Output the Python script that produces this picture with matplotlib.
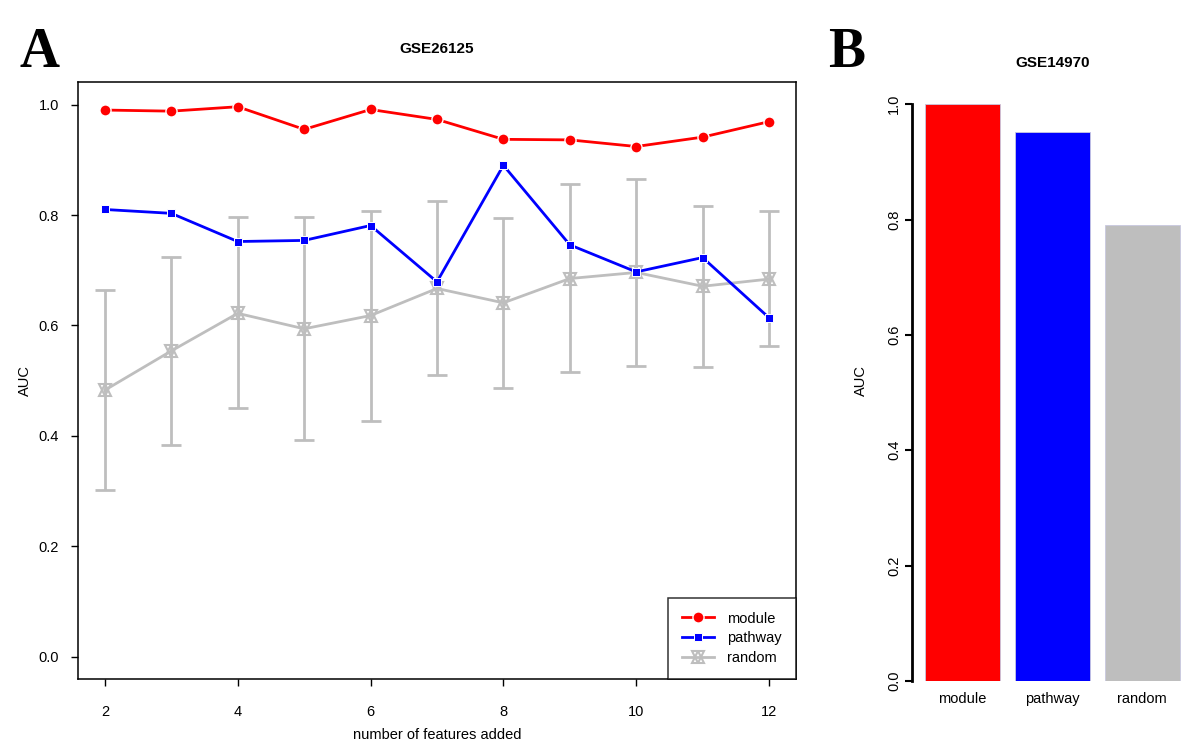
import matplotlib
matplotlib.use("Agg")
import matplotlib.pyplot as plt
from matplotlib.legend_handler import HandlerTuple
import numpy as np

plt.rcParams['font.family'] = ['Liberation Sans', 'DejaVu Sans']

"""
data read off the figure
"""
n_features = [2, 3, 4, 5, 6, 7, 8, 9, 10, 11, 12]
auc_module = [0.990, 0.988, 0.996, 0.955, 0.991, 0.973, 0.937, 0.936, 0.924, 0.941, 0.969]
auc_pathway = [0.810, 0.803, 0.752, 0.754, 0.781, 0.679, 0.890, 0.746, 0.697, 0.723, 0.614]
auc_random = [0.483, 0.554, 0.622, 0.594, 0.618, 0.667, 0.641, 0.685, 0.696, 0.671, 0.684]
random_low = [0.303, 0.384, 0.450, 0.392, 0.427, 0.510, 0.487, 0.515, 0.527, 0.525, 0.562]
random_high = [0.664, 0.724, 0.796, 0.796, 0.807, 0.826, 0.794, 0.857, 0.865, 0.816, 0.807]

bar_names = ['module', 'pathway', 'random']
bar_auc = [1.0, 0.951, 0.790]

RED = '#FF0000'
BLUE = '#0000FF'
GREY = '#BEBEBE'

fig = plt.figure(figsize=(12, 7.48), dpi=100)

# ---------------- panel A ----------------
axA = fig.add_axes([0.0653, 0.0922, 0.5977, 0.7976])

x = np.array(n_features)
rnd = np.array(auc_random)
yerr = [rnd - np.array(random_low), np.array(random_high) - rnd]
axA.errorbar(x, rnd, yerr=yerr, fmt='none', ecolor=GREY, elinewidth=2,
             capsize=7.5, capthick=2, zorder=1)
axA.plot(x, rnd, color=GREY, lw=2, zorder=2)
# random marker = up + down triangle drawn on top of each other
up, = axA.plot(x, rnd, ls='none', marker='^', ms=8, mfc='none', mec=GREY, mew=1.5, zorder=3)
dn, = axA.plot(x, rnd, ls='none', marker='v', ms=8, mfc='none', mec=GREY, mew=1.5, zorder=3)
rline, = axA.plot([], [], color=GREY, lw=2)

mline, = axA.plot(x, auc_module, color=RED, lw=2, marker='o', ms=8,
                  mfc=RED, mec='white', mew=1, zorder=5)
pline, = axA.plot(x, auc_pathway, color=BLUE, lw=2, marker='s', ms=5.8,
                  mfc=BLUE, mec='white', mew=0.7, zorder=4)

axA.set_xlim(1.6, 12.4)
axA.set_ylim(-0.04, 1.04)
axA.set_xticks([2, 4, 6, 8, 10, 12])
axA.set_yticks([0.0, 0.2, 0.4, 0.6, 0.8, 1.0])
axA.set_yticklabels(['0.0', '0.2', '0.4', '0.6', '0.8', '1.0'])
axA.tick_params(direction='out', length=5, width=1, labelsize=10.5, pad=9)
axA.tick_params(axis='x', pad=14)
for s in axA.spines.values():
    s.set_linewidth(1.1)
axA.set_xlabel('number of features added', fontsize=10.5, labelpad=6)
axA.set_ylabel('AUC', fontsize=10.5, labelpad=5)
axA.set_title('GSE26125', fontsize=11, fontweight='bold', pad=21)

leg = axA.legend([mline, pline, (rline, up, dn)], ['module', 'pathway', 'random'],
                 handler_map={tuple: HandlerTuple(ndivide=1)},
                 loc='lower right', borderaxespad=0, fontsize=10.5,
                 frameon=True, fancybox=False, edgecolor='black',
                 handlelength=2.2, labelspacing=0.4, borderpad=0.95,
                 handletextpad=0.9)
leg.get_frame().set_linewidth(1.1)

# ---------------- panel B ----------------
axB = fig.add_axes([0.7625, 0.0896, 0.229, 0.802])
pos = [0.7, 1.9, 3.1]
axB.bar(pos, bar_auc, width=1.0, color=[RED, BLUE, GREY],
        edgecolor='#C8C8E0', linewidth=0.6)
axB.set_xlim(0.064, 3.736)
axB.set_ylim(0, 1.04)
for side in ['top', 'right', 'bottom']:
    axB.spines[side].set_visible(False)
axB.spines['left'].set_bounds(0, 1)
axB.spines['left'].set_linewidth(2)
axB.spines['left'].set_position(('outward', 2))
axB.set_yticks([0.0, 0.2, 0.4, 0.6, 0.8, 1.0])
axB.set_yticklabels(['0.0', '0.2', '0.4', '0.6', '0.8', '1.0'], rotation=90, va='center')
axB.tick_params(axis='y', direction='out', length=5, width=1.5, labelsize=10.5, pad=3)
axB.set_xticks(pos)
axB.set_xticklabels(bar_names)
axB.tick_params(axis='x', length=0, labelsize=10.5, pad=8)
axB.set_ylabel('AUC', fontsize=10.5, labelpad=14)
axB.set_title('GSE14970', fontsize=11, fontweight='bold', pad=10)

# panel letters
serif = ['Liberation Serif', 'DejaVu Serif']
fig.text(0.016, 0.91, 'A', fontsize=40, fontweight='bold', family=serif)
fig.text(0.690, 0.91, 'B', fontsize=40, fontweight='bold', family=serif)

fig.savefig('out.png', dpi=100)
